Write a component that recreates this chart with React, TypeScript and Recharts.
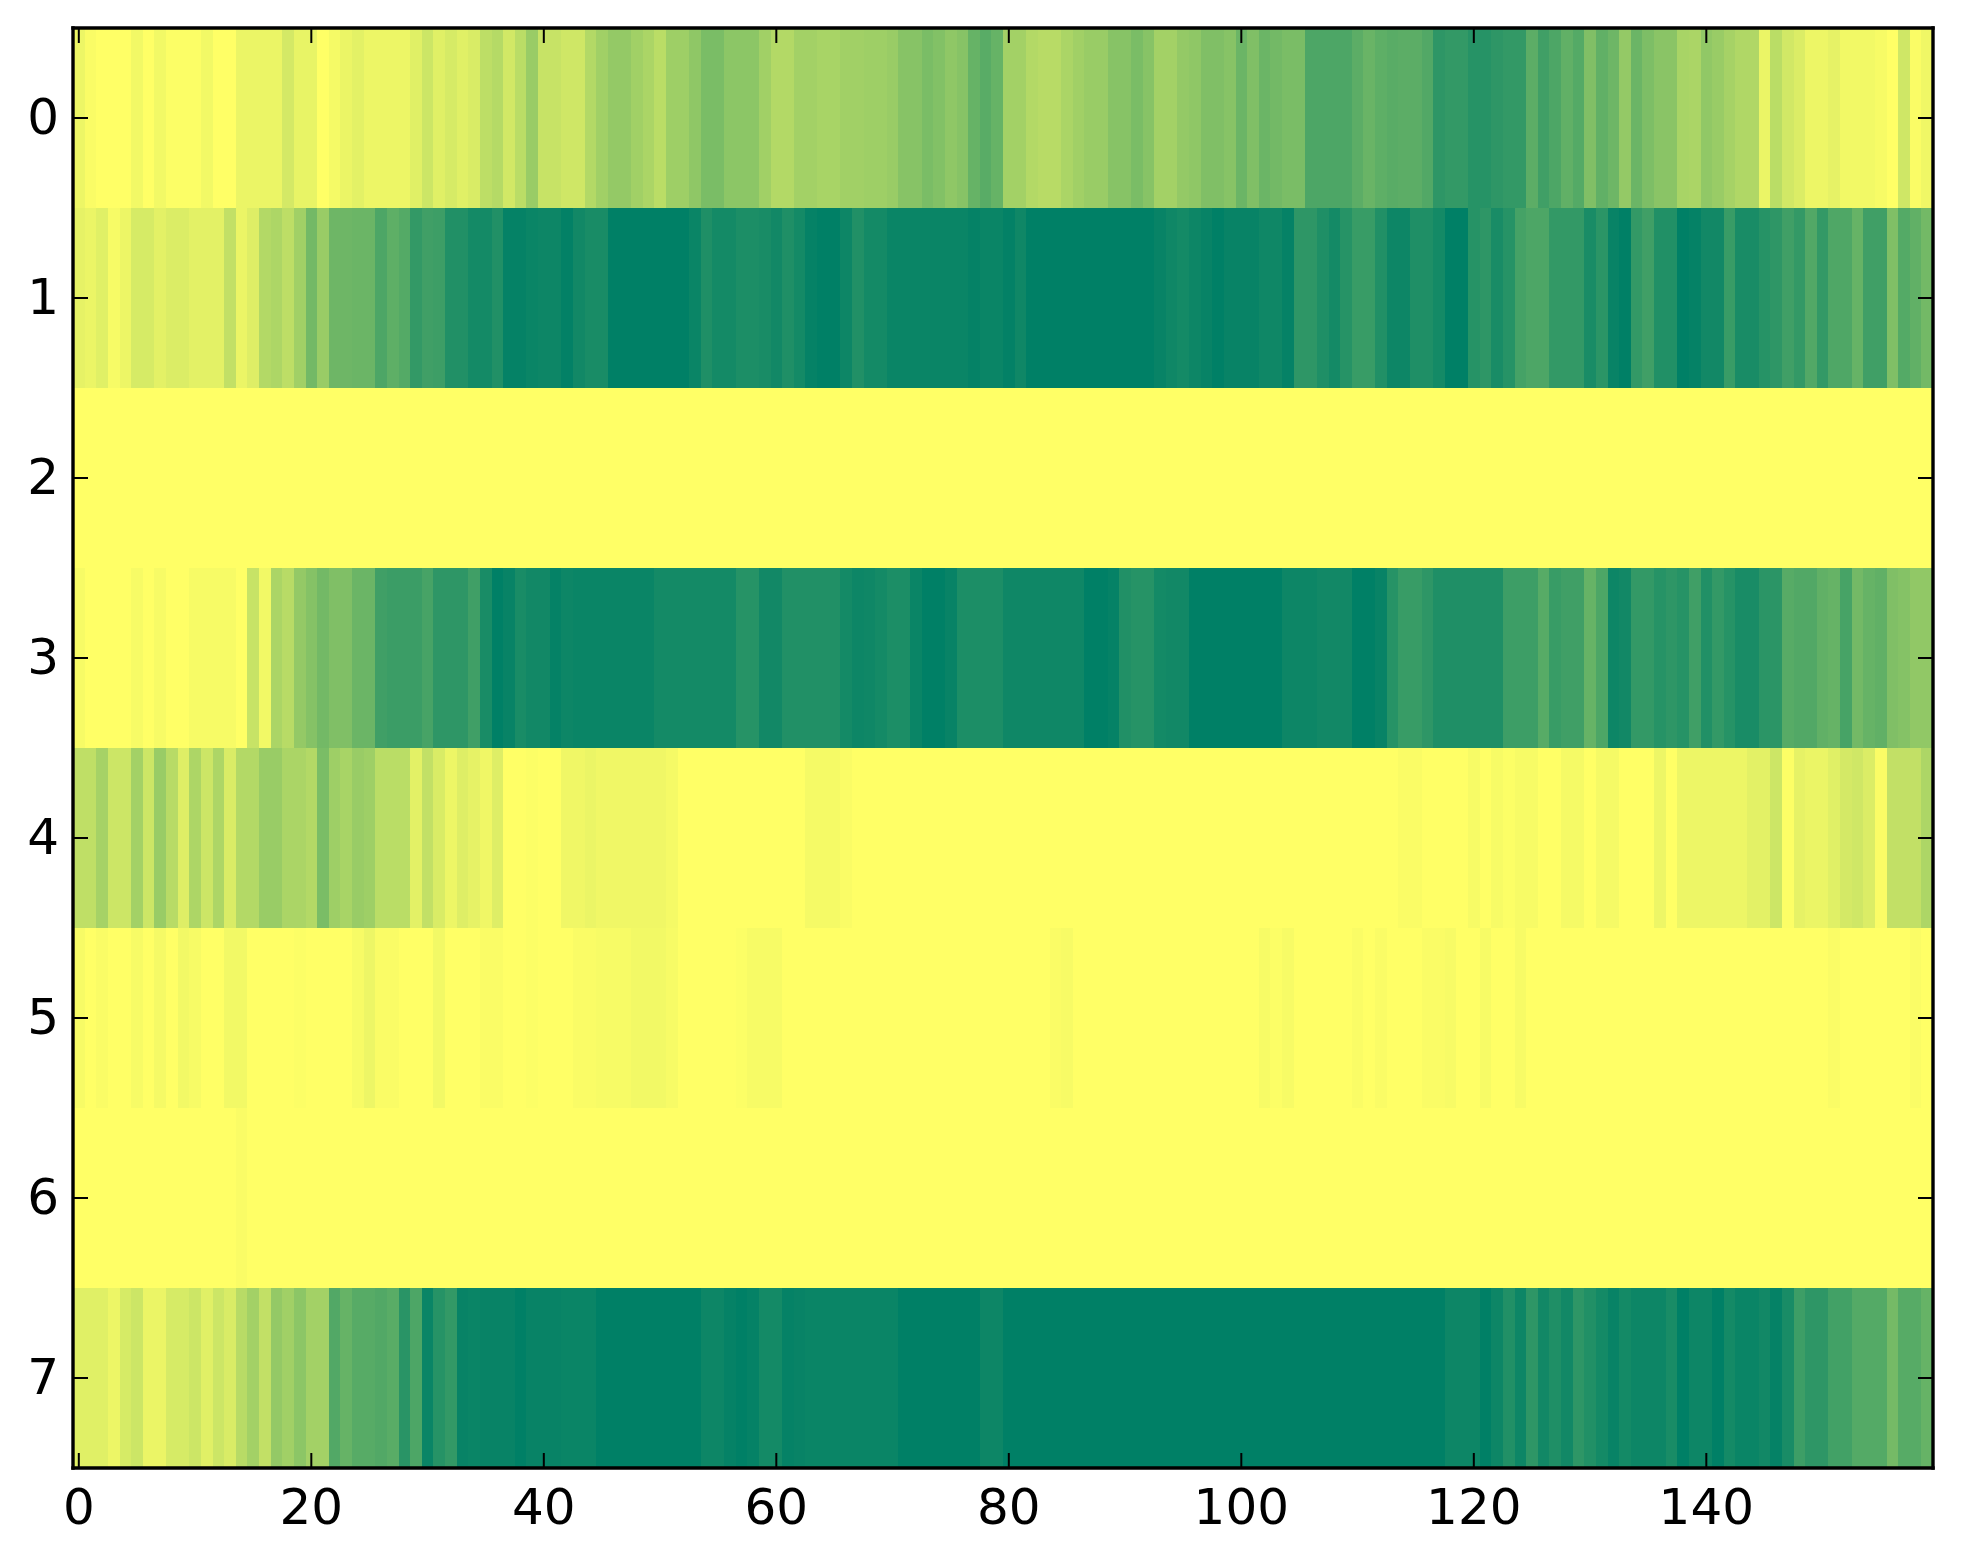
import React from "react";
import { ScatterChart, Scatter, XAxis, YAxis, ReferenceLine } from "recharts";

const row0 = [
  .07,.02,0,0,0,.05,0,.05,.01,.01, .01,.05,0,0,.08,.08,.08,.08,.17,.09,
  .09,0,.04,.08,.11,.07,.07,.07,.07,.12, .2,.12,.16,.12,.15,.26,.29,.18,.27,.4,
  .22,.22,.19,.19,.3,.37,.42,.42,.37,.33, .27,.38,.38,.44,.52,.52,.45,.45,.45,.37,
  .3,.3,.36,.36,.34,.34,.37,.37,.38,.38, .4,.47,.47,.52,.49,.44,.47,.6,.65,.6,
  .36,.36,.3,.28,.28,.33,.37,.4,.4,.47, .47,.52,.47,.36,.36,.42,.44,.5,.5,.47,
  .58,.5,.58,.55,.52,.52,.7,.7,.7,.7, .64,.59,.63,.65,.64,.64,.68,.82,.8,.8,
  .85,.85,.82,.8,.8,.64,.75,.7,.62,.67, .5,.62,.57,.42,.58,.51,.46,.46,.34,.33,
  .43,.4,.35,.31,.31,.08,.27,.18,.14,.07, .07,.1,.05,.05,.05,.03,0,.19,.02,.06,
];
const row1 = [
  .1,.08,.12,.03,.07,.16,.16,.11,.14,.14, .11,.11,.11,.24,.08,.13,.3,.32,.26,.37,
  .55,.4,.57,.57,.58,.58,.7,.63,.67,.8, .75,.76,.87,.87,.92,.92,.87,.98,.98,.96,
  .95,.95,.99,.93,.9,.9,1,1,1,1, 1,1,1,.96,.88,.92,.92,.89,.89,.9,
  .93,.88,.92,.98,1,1,.95,.87,.92,.92, .96,.96,.96,.96,.96,.96,.96,.98,.96,.96,
  .99,.94,1,1,1,1,1,1,1,1, 1,1,1,.97,.94,.92,.95,.97,1,.97,
  .97,.97,.94,.94,.98,.82,.82,.88,.92,.85, .78,.78,.87,.95,.95,.88,.88,.92,1,1,
  .85,.82,.9,.85,.73,.7,.7,.8,.8,.8, .9,.83,.97,1,.8,.75,.87,.87,1,.98,
  .93,.93,.78,.9,.9,.85,.82,.75,.8,.68, .8,.69,.69,.6,.75,.75,.5,.67,.62,.55,
];
const row2 = [
  0,0,0,0,0,0,0,0,0,0, 0,0,0,0,0,0,0,0,0,0, 0,0,0,0,0,0,0,0,0,0, 0,0,0,0,0,0,0,0,0,0,
  0,0,0,0,0,0,0,0,0,0, 0,0,0,0,0,0,0,0,0,0, 0,0,0,0,0,0,0,0,0,0, 0,0,0,0,0,0,0,0,0,0,
  0,0,0,0,0,0,0,0,0,0, 0,0,0,0,0,0,0,0,0,0, 0,0,0,0,0,0,0,0,0,0, 0,0,0,0,0,0,0,0,0,0,
  0,0,0,0,0,0,0,0,0,0, 0,0,0,0,0,0,0,0,0,0, 0,0,0,0,0,0,0,0,0,0, 0,0,0,0,0,0,0,0,0,0,
];
const row3 = [
  .03,0,0,0,0,.03,0,.03,0,0, .03,.03,.03,.03,0,.22,.05,.33,.28,.42,
  .48,.55,.5,.5,.58,.58,.75,.77,.77,.77, .72,.82,.82,.82,.75,.9,1,.97,.9,.93,
  .93,.98,.95,.96,.96,.96,.96,.96,.96,.96, .92,.92,.92,.92,.92,.92,.92,.85,.85,.93,
  .93,.87,.87,.87,.87,.87,.92,.95,.94,.92, .89,.89,.96,1,1,.97,.89,.89,.89,.89,
  .94,.94,.94,.94,.94,.94,.94,1,1,.98, .87,.85,.85,.92,.93,.93,1,1,1,1,
  1,1,1,1,.95,.95,.95,.93,.93,.93, 1,1,.97,.85,.78,.78,.82,.88,.88,.88,
  .88,.88,.88,.76,.76,.76,.66,.78,.75,.75, .6,.7,.95,.93,.8,.8,.85,.82,.85,.75,
  .87,.8,.85,.9,.9,.83,.83,.66,.68,.68, .62,.6,.72,.55,.6,.62,.5,.48,.43,.43,
];
const row4 = [
  .25,.25,.35,.2,.2,.36,.2,.4,.28,.13, .32,.2,.32,.15,.3,.3,.4,.4,.33,.33,
  .3,.52,.38,.34,.4,.38,.27,.27,.27,.11, .24,.15,.07,.13,.1,.06,.13,0,0,.01,
  0,0,.06,.06,.08,.06,.06,.06,.06,.06, .06,.04,0,0,0,0,0,0,0,0,
  0,0,0,.04,.04,.04,.02,0,0,0, 0,0,0,0,0,0,0,0,0,0,
  0,0,0,0,0,0,0,0,0,0, 0,0,0,0,0,0,0,0,0,0,
  0,0,0,0,0,0,0,0,0,0, 0,0,0,0,.02,.02,0,0,0,0,
  .03,0,.03,.01,.03,.03,0,0,.04,.04, 0,.04,.04,0,0,0,.07,0,.07,.07,
  .07,.07,.07,.07,.11,.11,.2,.01,.1,.08, .08,.12,.17,.19,.14,.02,.24,.24,.24,.32,
];
const row5 = [
  .03,0,.02,0,0,.03,0,.04,0,.05, .03,0,0,.05,.05,0,0,0,0,.01,
  0,0,0,0,.03,.07,.02,.02,0,0, 0,.05,0,0,0,.02,.02,0,0,.01,
  0,0,0,.02,.02,.03,.03,.03,.05,.05, .05,.03,0,0,0,0,0,.01,.03,.03,
  .03,0,0,0,0,0,0,0,0,0, 0,0,0,0,0,0,0,0,0,0,
  0,0,0,0,.02,.03,0,0,0,0, 0,0,0,0,0,0,0,0,0,0,
  0,0,.03,.01,.03,0,0,0,0,0, .02,0,.02,0,0,0,.02,.02,.03,0,
  0,.03,0,0,.03,0,0,0,0,0, 0,0,0,0,0,0,0,0,0,0,
  0,0,0,0,0,0,0,0,0,0, 0,.02,0,0,0,0,0,0,.02,0,
];
const row6 = [
  0,0,0,0,0,0,0,0,0,0, 0,0,0,0,.02,0,0,0,0,0, 0,0,0,0,0,0,0,0,0,0, 0,0,0,0,0,0,0,0,0,0,
  0,0,0,0,0,0,0,0,0,0, 0,0,0,0,0,0,0,0,0,0, 0,0,0,0,0,0,0,0,0,0, 0,0,0,0,0,0,0,0,0,0,
  0,0,0,0,0,0,0,0,0,0, 0,0,0,0,0,0,0,0,0,0, 0,0,0,0,0,0,0,0,0,0, 0,0,0,0,0,0,0,0,0,0,
  0,0,0,0,0,0,0,0,0,0, 0,0,0,0,0,0,0,0,0,0, 0,0,0,0,0,0,0,0,0,0, 0,0,0,0,0,0,0,0,0,0,
];
const row7 = [
  .12,.12,.12,.07,.16,.2,.08,.08,.16,.16, .2,.12,.2,.15,.28,.36,.24,.42,.37,.45,
  .36,.36,.68,.6,.66,.66,.68,.65,.84,.7, .96,.85,.8,.97,.96,.97,.97,.97,1,.97,
  .97,.97,.96,.96,.96,1,1,1,1,1, 1,1,1,1,.95,.95,.98,1,.98,.92,
  .92,.98,.97,.96,.96,.96,.96,.96,.96,.96, .96,1,1,1,1,1,1,1,.95,.95,
  1,1,1,1,1,1,1,1,1,1, 1,1,1,1,1,1,1,1,1,1,
  1,1,1,1,1,1,1,1,1,1, 1,1,1,1,1,1,1,1,.95,.95,
  .95,1,.95,.87,.95,.82,.93,.88,.93,.82, .87,.92,.97,.92,.95,.95,.95,.9,1,.95,
  .95,1,.92,.96,.96,.93,.98,.9,.76,.82, .82,.74,.74,.67,.67,.67,.54,.66,.66,.6,
];

const rows = [row0, row1, row2, row3, row4, row5, row6, row7];
const xTicks = [0, 20, 40, 60, 80, 100, 120, 140];
const yTicks = [0, 1, 2, 3, 4, 5, 6, 7];

const cells = rows.flatMap((row, y) => row.map((v, x) => ({ x, y, v })));

const WIDTH = 1947;
const HEIGHT = 1547;
const MARGIN = { top: 20, right: 22, bottom: 87, left: 65 };
const PLOT_W = WIDTH - MARGIN.left - MARGIN.right;
const PLOT_H = HEIGHT - MARGIN.top - MARGIN.bottom;
const CELL_W = PLOT_W / 160;
const CELL_H = PLOT_H / 8;
const FONT = "'DejaVu Sans', sans-serif";
const X0 = -0.5;
const X1 = 159.5;
const Y0 = -0.5;
const Y1 = 7.5;
const TICK_X = 15 / CELL_W;
const TICK_Y = 15 / CELL_H;

const summerR = (v: number) =>
  `rgb(${Math.round(255 * (1 - v))},${Math.round(255 * (1 - v / 2))},102)`;

const Cell = (p: any) => (
  <rect
    x={p.cx - CELL_W / 2}
    y={p.cy - CELL_H / 2}
    width={CELL_W + 0.6}
    height={CELL_H + 0.6}
    fill={summerR(p.payload.v)}
    shapeRendering="crispEdges"
  />
);

const BottomTick = (p: any) => (
  <text x={p.x} y={p.y + 56} textAnchor="middle" fontFamily={FONT} fontSize={50} fill="#000">
    {p.payload.value}
  </text>
);
const LeftTick = (p: any) => (
  <text x={p.x - 14} y={p.y + 16} textAnchor="end" fontFamily={FONT} fontSize={50} fill="#000">
    {p.payload.value}
  </text>
);

const frameSegments = [
  [{ x: X0, y: Y0 }, { x: X1, y: Y0 }],
  [{ x: X0, y: Y1 }, { x: X1, y: Y1 }],
  [{ x: X0, y: Y0 }, { x: X0, y: Y1 }],
  [{ x: X1, y: Y0 }, { x: X1, y: Y1 }],
];
const tickSegments = [
  ...xTicks.flatMap((x) => [
    [{ x, y: Y1 }, { x, y: Y1 - TICK_Y }],
    [{ x, y: Y0 }, { x, y: Y0 + TICK_Y }],
  ]),
  ...yTicks.flatMap((y) => [
    [{ x: X0, y }, { x: X0 + TICK_X, y }],
    [{ x: X1, y }, { x: X1 - TICK_X, y }],
  ]),
];

export default function App() {
  return (
    <div style={{ position: "relative", width: WIDTH, height: HEIGHT }}>
      <div style={{ position: "absolute", left: 0, top: 0 }}>
        <ScatterChart width={WIDTH} height={HEIGHT} margin={MARGIN}>
          <XAxis xAxisId="b" hide type="number" dataKey="x" domain={[X0, X1]} allowDataOverflow />
          <YAxis yAxisId="l" hide type="number" dataKey="y" reversed domain={[Y0, Y1]} allowDataOverflow />
          <Scatter data={cells} dataKey="v" xAxisId="b" yAxisId="l" shape={Cell} isAnimationActive={false} />
        </ScatterChart>
      </div>
      <div style={{ position: "absolute", left: 0, top: 0 }}>
        <ScatterChart width={WIDTH} height={HEIGHT} margin={{ top: MARGIN.top, right: MARGIN.right, bottom: 0, left: 0 }}>
          <Scatter data={[]} xAxisId="b" yAxisId="l" isAnimationActive={false} />
          <XAxis
            xAxisId="b" orientation="bottom" type="number" dataKey="x" domain={[X0, X1]} allowDataOverflow
            ticks={xTicks} interval={0} height={MARGIN.bottom} tickSize={0} tickMargin={0} tickLine={false}
            axisLine={false} tick={BottomTick}
          />
          <YAxis
            yAxisId="l" orientation="left" type="number" dataKey="y" reversed domain={[Y0, Y1]} allowDataOverflow
            ticks={yTicks} interval={0} width={MARGIN.left} tickSize={0} tickMargin={0} tickLine={false}
            axisLine={false} tick={LeftTick}
          />
          {tickSegments.map((segment, i) => (
            <ReferenceLine key={`t${i}`} xAxisId="b" yAxisId="l" segment={segment} stroke="#000" strokeWidth={2} ifOverflow="visible" />
          ))}
          {frameSegments.map((segment, i) => (
            <ReferenceLine key={`f${i}`} xAxisId="b" yAxisId="l" segment={segment} stroke="#000" strokeWidth={3.4} strokeLinecap="square" ifOverflow="visible" />
          ))}
        </ScatterChart>
      </div>
    </div>
  );
}
